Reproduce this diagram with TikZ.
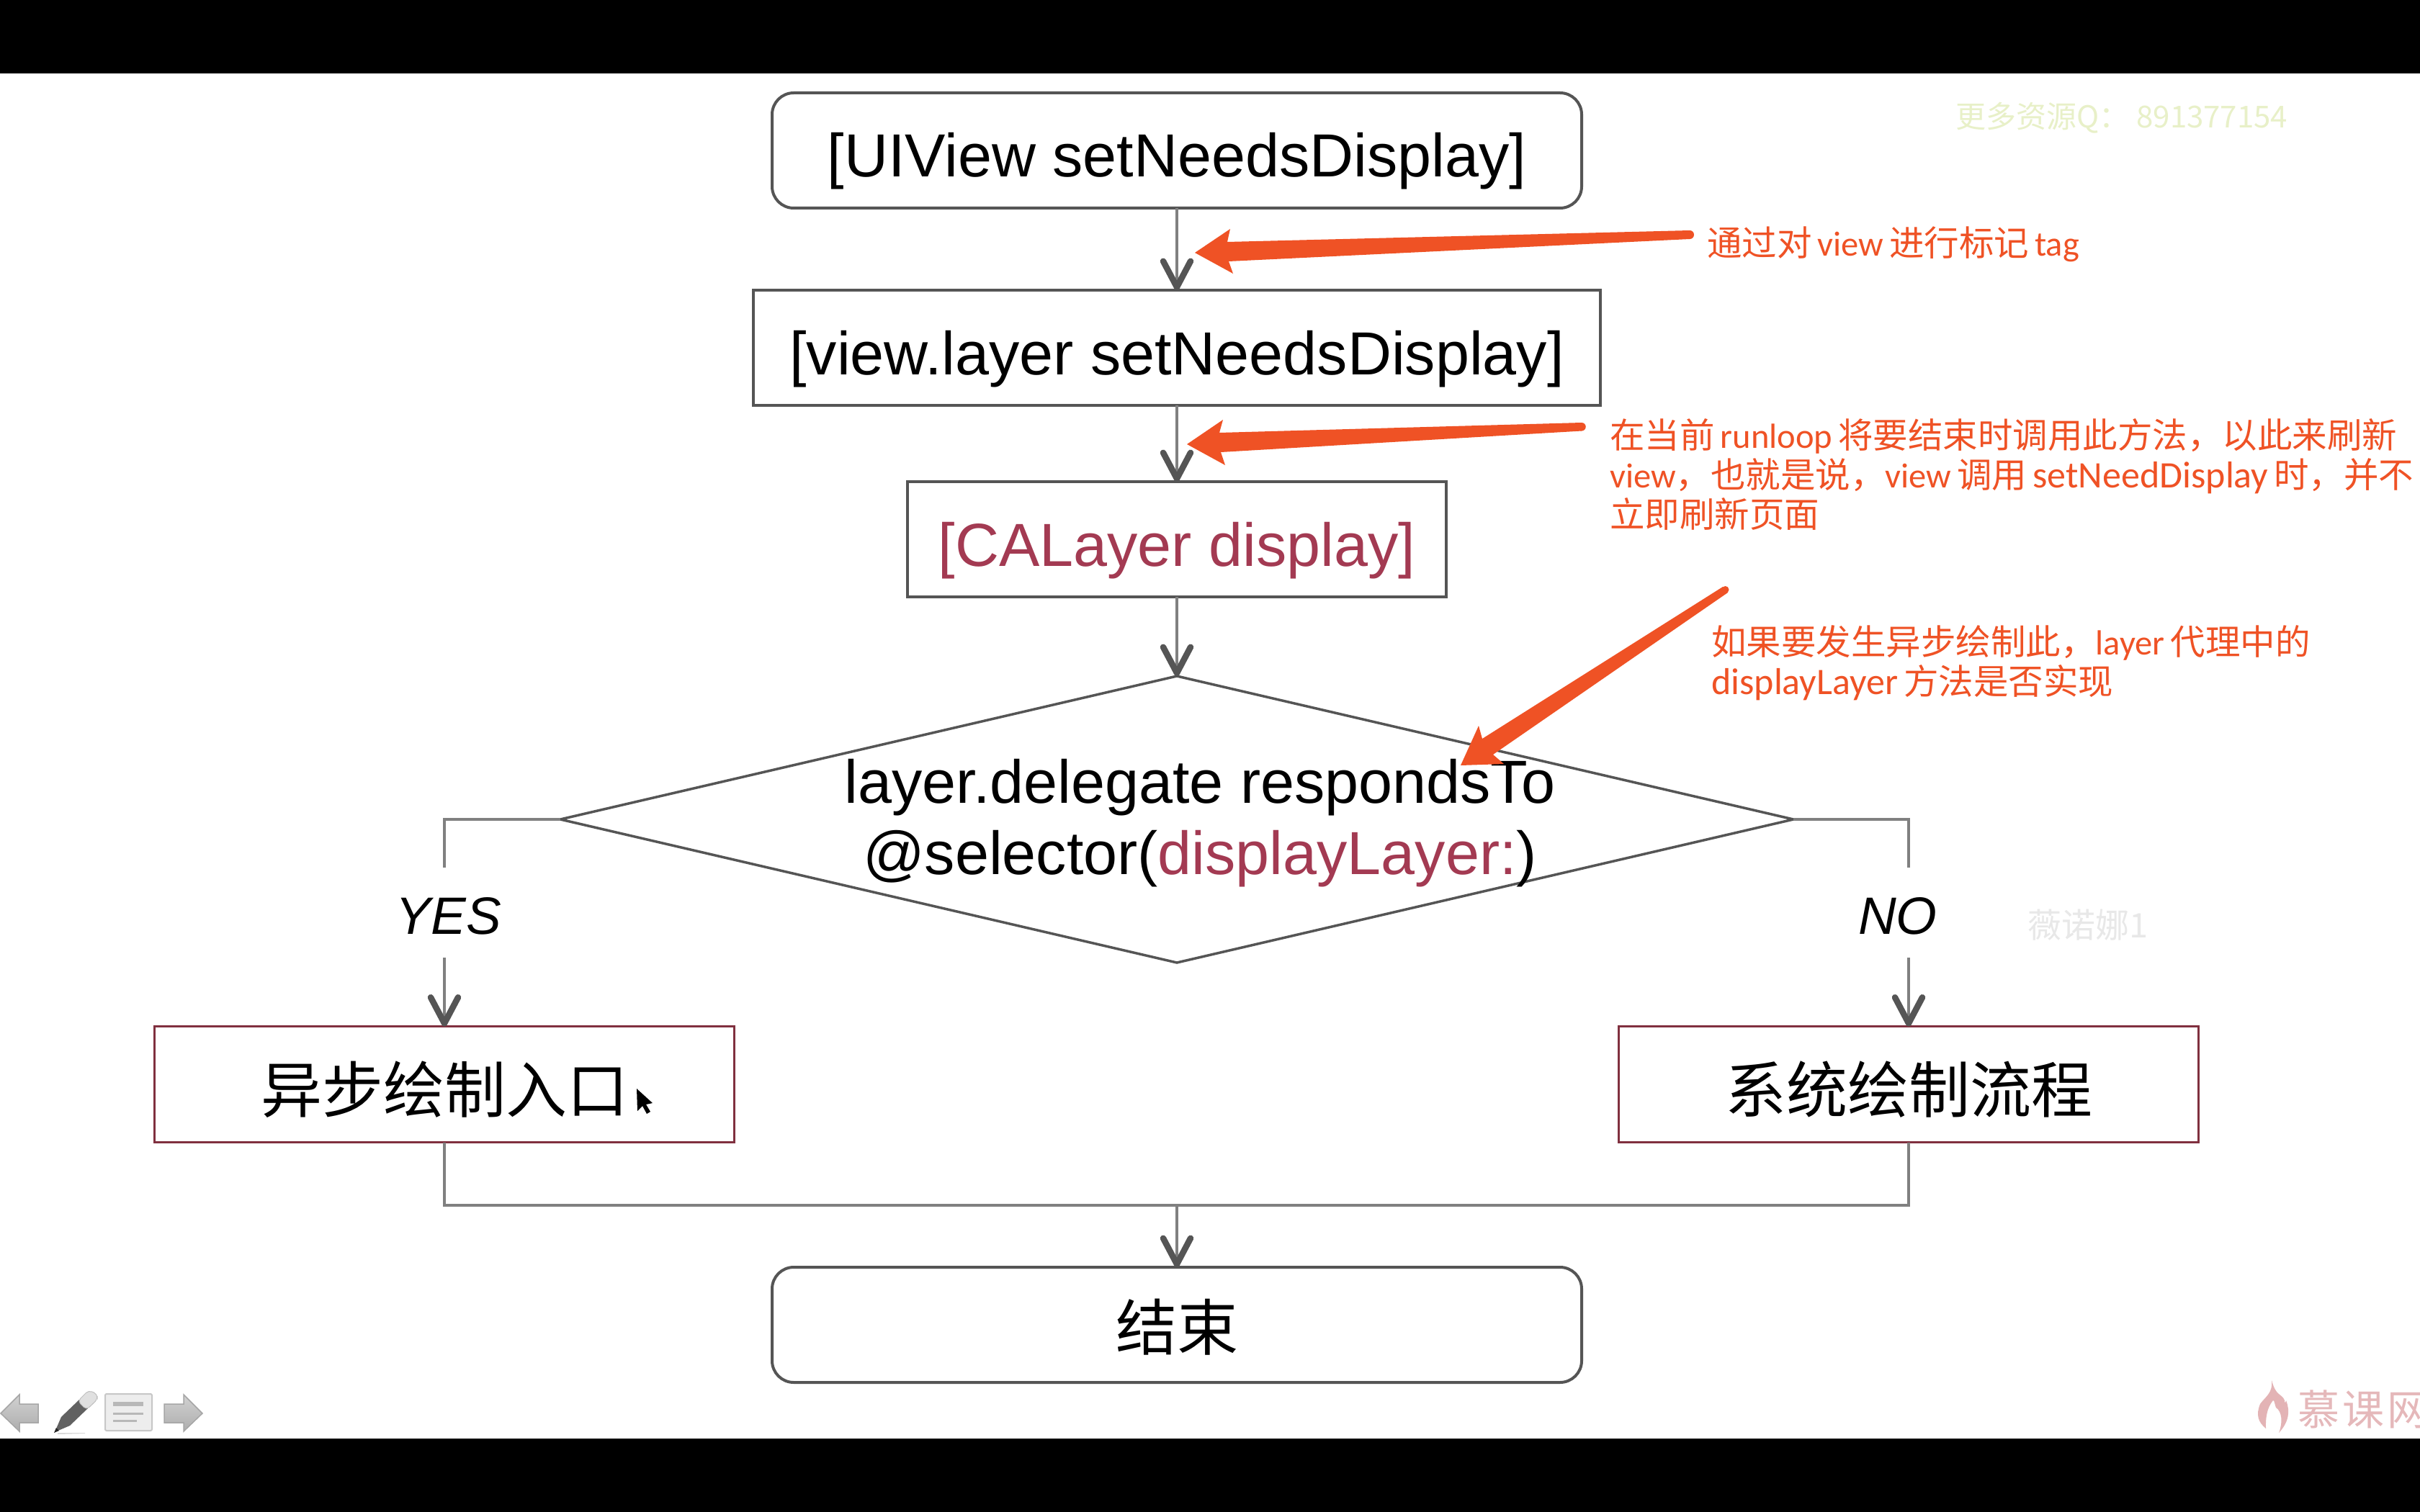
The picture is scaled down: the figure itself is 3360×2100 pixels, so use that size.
\documentclass[tikz,border=0pt]{standalone}
\usepackage{fontspec}
\setmainfont{Liberation Sans}
\newfontfamily\cjk{Noto Sans CJK SC}
\newfontfamily\carlitofont{Carlito}
\newcommand{\lat}[1]{\hspace{8pt}{\carlitofont #1}\hspace{8pt}}
\newcommand{\latstart}[1]{{\carlitofont #1}\hspace{8pt}}
\newcommand{\latend}[1]{\hspace{8pt}{\carlitofont #1}}
\newcommand{\latplain}[1]{{\carlitofont #1}}
\newcommand{\latwide}{\fontsize{52}{55}\selectfont}
\usetikzlibrary{arrows.meta,shapes.geometric,calc}
\definecolor{orangeline}{HTML}{EF5225}
\definecolor{maroontext}{HTML}{A33A52}
\definecolor{boxline}{HTML}{555555}
\definecolor{connline}{HTML}{808080}
\definecolor{redbox}{HTML}{80303F}
\tikzset{
  flowbox/.style={draw=boxline,line width=4pt,inner sep=0pt,outer sep=0pt,text height=92pt,text depth=18pt,font=\fontsize{84.5}{99}\selectfont},
  roundbox/.style={flowbox,rounded corners=30pt},
  cjkbox/.style={flowbox,draw=redbox,line width=3.5pt,text height=90pt,text depth=12pt,font=\cjk\fontsize{85}{99}\selectfont},
  conn/.style={draw=connline,line width=4pt,-{Straight Barb[length=36pt,width=38pt,line width=8.5pt,round,color=boxline]}},
  plainconn/.style={draw=connline,line width=4pt},
  decision/.style={draw=boxline,line width=3.5pt,diamond,aspect=4.3,inner sep=0pt,outer sep=0pt},
  branchlabel/.style={fill=white,inner sep=0pt,minimum width=150pt,minimum height=125pt,text height=60pt,text depth=0pt,font=\itshape\fontsize{73}{73}\selectfont},
  note/.style={text=orangeline,anchor=west,align=left,inner sep=0pt,font=\cjk\fontsize{48.5}{55}\selectfont},
  orangefill/.style={fill=orangeline,draw=none},
  iconarrow/.style={draw=black!35,line width=1.5pt,top color=black!18,bottom color=black!32},
}
\begin{document}
\begin{tikzpicture}[x=1pt,y=-1pt]
\useasboundingbox (0,0) rectangle (3360,2100);
\fill[white] (0,0) rectangle (3360,2100);
\fill[black] (0,0) rectangle (3360,102);
\fill[black] (0,1998) rectangle (3360,2100);

% nodes
\node[roundbox,minimum width=1124pt,minimum height=160pt] (box1) at (1634,209) {[UIView setNeedsDisplay]};
\node[flowbox,minimum width=1176pt,minimum height=160pt] (box2) at (1634,483) {[view.layer setNeedsDisplay]};
\node[flowbox,minimum width=748pt,minimum height=160pt,text=maroontext] (box3) at (1634,749) {[CALayer display]};
\node[decision,minimum width=1712pt,minimum height=398pt] (dec) at (1634,1138) {};
\node[inner sep=0pt,align=center,font=\fontsize{84.5}{99}\selectfont] (dectext) at (1666,1143) {layer.delegate respondsTo\\@selector(\textcolor{maroontext}{displayLayer:})};
\node[cjkbox,minimum width=805pt,minimum height=161pt] (box4) at (617,1506) {异步绘制入口};
\node[cjkbox,minimum width=805pt,minimum height=161pt] (box5) at (2650,1506) {系统绘制流程};
\node[roundbox,minimum width=1124pt,minimum height=160pt,text height=84pt,text depth=14pt,font=\cjk\fontsize{85}{99}\selectfont] (box6) at (1634,1840) {结束};
\coordinate (merge) at (1634,1674);

% connectors
\draw[conn] (box1.south) -- (box2.north);
\draw[conn] (box2.south) -- (box3.north);
\draw[conn] (box3.south) -- (dec.north);
\draw[conn] (dec.west) -| (box4.north);
\draw[conn] (dec.east) -| (box5.north);
\draw[plainconn] (box4.south) |- (merge);
\draw[plainconn] (box5.south) |- (merge);
\draw[conn] (merge) -- (box6.north);
\node[branchlabel] (yes) at (623,1267) {YES};
\node[branchlabel] (no) at (2635,1267) {NO};

% annotations
\node[note] (n1) at (2370,339) {通过对\lat{view}进行标记\latend{tag}};
\node[note] (n2) at (2235,659) {在当前\lat{runloop}将要结束时调用此方法，以此来刷新\\\latplain{view}，也就是说，\latstart{view}调用\lat{\latwide setNeedDisplay}时，并不\\立即刷新页面};
\node[note] (n3) at (2376,921) {如果要发生异步绘制此，\latstart{layer}代理中的\\\latstart{\latwide displayLayer}方法是否实现};

% orange arrows
\fill[orangefill] (1659,351) -- (1708,318) -- (1704,336) -- (2346,320) -- (2346,332) -- (1706,363) -- (1712,380) -- cycle;
\fill[orangefill] (2346,326) circle (6);
\fill[orangefill] (1648,617) -- (1698,583) -- (1693,601) -- (2196,587) -- (2196,598.5) -- (1695,628) -- (1701,646) -- cycle;
\fill[orangefill] (2196,592.75) circle (5.75);
\fill[orangefill] (2028,1063) -- (2053,1008) -- (2058,1026) -- (2392,815) -- (2399,823) -- (2073,1048) -- (2088,1061) -- cycle;
\fill[orangefill] (2395.5,819) circle (5);

% watermarks
\begin{scope}
\clip (2700,120) rectangle (3175,200);
\node[anchor=west,inner sep=0pt,text={rgb,255:red,232;green,240;blue,200},font=\cjk\fontsize{42}{42}\selectfont] (wm1) at (2715,164) {更多资源Q：\hspace{10pt}891377154};
\end{scope}
\node[anchor=west,inner sep=0pt,text=black!9,font=\cjk\fontsize{47}{47}\selectfont] (wm2) at (2815,1285) {薇诺娜1};
\node[anchor=west,inner sep=0pt,text={rgb,255:red,229;green,184;blue,186},font=\cjk\fontsize{58}{58}\selectfont] (wm3) at (3190,1957) {慕\hspace{4pt}课\hspace{4pt}网};
\fill[fill={rgb,255:red,227;green,179;blue,181}] (3154,1917) .. controls (3160,1940) and (3168,1935) .. (3172,1945) .. controls (3172,1948) and (3173,1950) .. (3174,1945) .. controls (3180,1960) and (3178,1975) .. (3164,1990) .. controls (3170,1975) and (3168,1960) .. (3160,1955) .. controls (3158,1950) and (3158,1945) .. (3156,1945) .. controls (3152,1950) and (3145,1960) .. (3146,1984) .. controls (3135,1975) and (3132,1965) .. (3138,1950) .. controls (3145,1940) and (3156,1935) .. (3154,1917) -- cycle;

% cursor
\fill[black] (884,1512) -- (885,1543) -- (892,1536) -- (898,1547) -- (903,1544) -- (897,1534) -- (906,1532) -- cycle;

% toolbar icons
\draw[iconarrow] (1,1963) -- (27,1937) -- (27,1950) -- (53,1950) -- (53,1976) -- (27,1976) -- (27,1988) -- cycle;
\draw[iconarrow] (281,1963) -- (255,1937) -- (255,1950) -- (228,1950) -- (228,1976) -- (255,1976) -- (255,1988) -- cycle;
\draw[draw=black!22,fill=black!7,line width=2pt,rounded corners=2pt] (146,1936) rectangle (211,1987);
\draw[black!28,line width=6pt] (157,1950) -- (199,1950);
\draw[black!28,line width=3pt] (157,1963) -- (199,1963);
\draw[black!28,line width=3pt] (157,1973) -- (190,1973);
\fill[black!62] (76,1989) -- (85,1968) -- (110,1944) -- (122,1956) -- (97,1980) -- cycle;
\fill[black!85] (75,1990) -- (78,1983) -- (82,1987) -- cycle;
\draw[draw=black!25,fill=black!12,line width=1pt,rounded corners=5pt] (108,1946) -- (123,1931) -- (135,1936) -- (135,1944) -- (120,1958) -- cycle;
\fill[black!15] (80,1990) -- (118,1990) -- (118,1991) -- (80,1992) -- cycle;
\end{tikzpicture}
\end{document}
